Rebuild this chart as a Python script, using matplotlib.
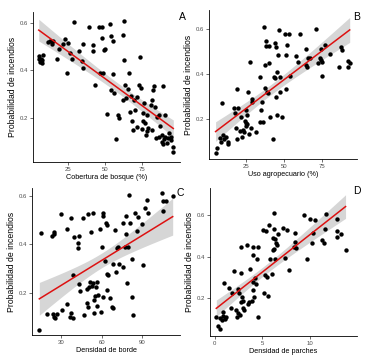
import matplotlib
matplotlib.use("Agg")
import matplotlib.pyplot as plt
import numpy as np

plt.rcParams["font.family"] = ["Liberation Sans", "DejaVu Sans"]

# Panel A: forest cover (%) vs fire probability
a_x = [6.0, 6.9, 7.6, 6.5, 8.3, 7.8, 5.6, 11.6, 13.2, 15.0, 14.3, 18.1, 19.4, 22.1, 23.2, 25.4,
       24.8, 26.6, 27.7, 29.2, 32.8, 34.4, 35.0, 35.5, 39.3, 41.7, 42.2, 43.5, 46.2, 47.8, 48.2,
       46.7, 48.9, 49.3, 50.2, 51.1, 53.3, 53.8, 54.0, 55.1, 55.6, 56.0, 57.4, 58.9, 59.6, 61.8,
       62.7, 62.7, 63.4, 64.1, 61.8, 65.2, 66.3, 66.7, 67.2, 67.9, 68.5, 69.4, 70.1, 71.2, 71.6,
       73.0, 73.4, 73.9, 74.6, 75.2, 75.7, 76.1, 76.8, 77.5, 77.9, 77.9, 79.0, 80.6, 81.2, 81.5,
       82.4, 82.8, 83.5, 84.2, 84.6, 86.4, 86.4, 86.8, 87.9, 89.1, 90.2, 87.9, 88.6, 89.5, 90.4,
       91.3, 92.4, 93.1, 94.0, 94.6, 95.3, 95.8]
a_y = [0.458, 0.449, 0.441, 0.435, 0.463, 0.432, 0.446, 0.517, 0.525, 0.522, 0.511, 0.446, 0.49,
       0.511, 0.531, 0.514, 0.39, 0.472, 0.446, 0.602, 0.479, 0.437, 0.408, 0.511, 0.583, 0.483,
       0.507, 0.337, 0.58, 0.58, 0.535, 0.39, 0.39, 0.486, 0.488, 0.215, 0.595, 0.317, 0.542,
       0.525, 0.385, 0.306, 0.112, 0.212, 0.198, 0.549, 0.609, 0.441, 0.338, 0.282, 0.275, 0.32,
       0.39, 0.226, 0.292, 0.188, 0.149, 0.275, 0.233, 0.163, 0.286, 0.338, 0.455, 0.324, 0.151,
       0.188, 0.219, 0.264, 0.177, 0.128, 0.212, 0.146, 0.156, 0.254, 0.275, 0.149, 0.317, 0.334,
       0.244, 0.114, 0.205, 0.121, 0.212, 0.166, 0.128, 0.334, 0.212, 0.1, 0.09, 0.109, 0.121,
       0.095, 0.114, 0.135, 0.107, 0.118, 0.078, 0.057]

# Panel B: agricultural use (%)
b_x = [4.8, 5.7, 7.5, 8.6, 9.6, 9.2, 10.3, 11.8, 12.9, 12.9, 16.7, 17.3, 18.4, 18.9, 19.1, 19.5,
       21.1, 21.7, 22.4, 22.8, 23.2, 24.1, 24.6, 24.6, 25.0, 25.4, 25.7, 26.1, 26.8, 27.2, 27.9,
       28.5, 29.0, 31.1, 33.8, 34.2, 34.9, 35.5, 36.0, 36.6, 37.1, 37.1, 37.7, 38.2, 38.6, 39.3,
       39.7, 40.0, 40.8, 42.5, 43.0, 43.6, 43.9, 44.3, 44.7, 45.2, 45.4, 45.8, 46.5, 46.9, 47.4,
       48.7, 50.2, 50.9, 51.3, 52.0, 53.1, 53.5, 57.9, 59.0, 60.5, 64.0, 64.5, 64.9, 65.6, 66.7,
       70.6, 72.1, 73.2, 73.9, 74.3, 75.0, 75.0, 76.5, 79.8, 86.0, 87.5, 87.7, 92.1, 91.7, 93.0]
b_y = [0.049, 0.068, 0.113, 0.098, 0.128, 0.272, 0.109, 0.12, 0.098, 0.09, 0.247, 0.225, 0.158,
       0.332, 0.109, 0.247, 0.147, 0.21, 0.12, 0.15, 0.143, 0.192, 0.18, 0.168, 0.24, 0.217, 0.177,
       0.321, 0.132, 0.455, 0.158, 0.291, 0.277, 0.143, 0.187, 0.385, 0.24, 0.277, 0.187, 0.608,
       0.44, 0.336, 0.525, 0.549, 0.321, 0.314, 0.448, 0.525, 0.21, 0.109, 0.388, 0.54, 0.381,
       0.522, 0.299, 0.217, 0.41, 0.485, 0.597, 0.321, 0.388, 0.21, 0.578, 0.485, 0.332, 0.529,
       0.581, 0.391, 0.48, 0.455, 0.581, 0.44, 0.51, 0.433, 0.47, 0.474, 0.602, 0.451, 0.474,
       0.514, 0.462, 0.455, 0.391, 0.529, 0.489, 0.433, 0.522, 0.507, 0.459, 0.433, 0.448]

# Panel C: edge density
c_x = [14.0, 15.0, 19.4, 23.9, 24.8, 25.6, 23.1, 24.8, 25.1, 27.3, 30.0, 30.5, 34.2, 34.2, 36.6,
       37.1, 37.1, 38.6, 39.1, 39.6, 42.3, 42.8, 43.5, 43.5, 44.0, 46.5, 47.0, 48.9, 49.4, 50.2,
       50.2, 50.9, 51.4, 51.9, 52.6, 53.4, 53.9, 54.6, 54.6, 55.1, 55.8, 56.3, 56.8, 57.5, 58.8,
       59.3, 60.0, 60.7, 61.2, 61.2, 62.5, 63.2, 63.7, 64.2, 63.7, 64.9, 66.1, 67.4, 68.1, 68.6,
       69.8, 70.6, 71.6, 72.3, 73.0, 75.5, 76.0, 77.2, 77.9, 77.9, 78.4, 79.7, 80.4, 80.9, 82.1,
       82.1, 82.9, 84.6, 85.8, 87.0, 89.5, 90.7, 91.9, 93.2, 94.4, 104.3, 105.0, 105.5, 107.5,
       112.4]
c_y = [0.046, 0.448, 0.11, 0.11, 0.101, 0.094, 0.434, 0.443, 0.452, 0.112, 0.526, 0.128, 0.153,
       0.462, 0.101, 0.117, 0.508, 0.273, 0.094, 0.432, 0.407, 0.386, 0.434, 0.236, 0.208, 0.508,
       0.108, 0.156, 0.214, 0.142, 0.526, 0.225, 0.243, 0.452, 0.228, 0.239, 0.528, 0.17, 0.117,
       0.188, 0.222, 0.246, 0.145, 0.19, 0.465, 0.121, 0.39, 0.531, 0.517, 0.183, 0.332, 0.49,
       0.211, 0.48, 0.277, 0.273, 0.177, 0.142, 0.135, 0.319, 0.459, 0.287, 0.383, 0.39, 0.319,
       0.305, 0.487, 0.39, 0.443, 0.517, 0.239, 0.39, 0.604, 0.487, 0.338, 0.183, 0.108, 0.528,
       0.457, 0.512, 0.484, 0.314, 0.549, 0.583, 0.528, 0.611, 0.539, 0.581, 0.581, 0.6]

# Panel D: patch density
d_x = [0.17, 0.34, 0.58, 0.58, 0.78, 0.85, 0.92, 1.02, 1.12, 1.19, 1.46, 1.69, 1.86, 2.03, 2.27,
       2.37, 2.47, 2.47, 2.54, 2.61, 2.71, 2.71, 2.81, 2.88, 2.95, 2.98, 3.05, 3.39, 3.49, 3.56,
       3.73, 3.90, 3.97, 4.07, 4.07, 4.07, 4.17, 4.24, 4.31, 4.41, 4.51, 4.51, 5.08, 5.19, 5.32,
       5.42, 5.53, 5.59, 5.66, 5.76, 6.0, 6.10, 6.10, 6.20, 6.20, 6.27, 6.34, 6.34, 6.44, 6.54,
       6.68, 7.12, 7.36, 7.56, 7.80, 8.31, 8.47, 8.47, 8.58, 9.32, 9.66, 10.0, 10.17, 10.34, 10.51,
       11.29, 11.42, 11.53, 11.69, 12.78, 12.78, 12.88, 13.22, 13.73]
d_y = [0.112, 0.067, 0.051, 0.104, 0.096, 0.115, 0.136, 0.275, 0.099, 0.112, 0.248, 0.152, 0.224,
       0.333, 0.144, 0.112, 0.243, 0.131, 0.224, 0.12, 0.448, 0.32, 0.184, 0.208, 0.152, 0.189,
       0.144, 0.456, 0.173, 0.184, 0.339, 0.189, 0.448, 0.408, 0.28, 0.24, 0.208, 0.296, 0.269,
       0.387, 0.448, 0.112, 0.528, 0.224, 0.312, 0.525, 0.304, 0.211, 0.552, 0.387, 0.317, 0.432,
       0.488, 0.435, 0.531, 0.608, 0.483, 0.387, 0.464, 0.456, 0.509, 0.536, 0.392, 0.528, 0.336,
       0.448, 0.472, 0.512, 0.44, 0.6, 0.387, 0.579, 0.467, 0.512, 0.576, 0.48, 0.464, 0.531,
       0.605, 0.525, 0.493, 0.579, 0.509, 0.432]

x_labels = ["Cobertura de bosque (%)", "Uso agropecuario (%)", "Densidad de borde", "Densidad de parches"]
y_label = "Probabilidad de incendios"
tags = ["A", "B", "C", "D"]
x_ticks = [[25, 50, 75], [25, 50, 75], [30, 60, 90], [0, 5, 10]]
y_ticks = [0.2, 0.4, 0.6]

W, H = 367, 363
# pixel boxes: left, right, top, bottom
boxes = [(33, 180, 12, 162), (209, 357, 10, 159), (32, 180, 188, 335), (210, 357, 188, 336)]
xlims = [(1.74, 100.3), (0.46, 97.8), (8.6, 117.8), (-0.49, 14.93)]
ylims = [(0.014, 0.645), (0.021, 0.686), (0.025, 0.633), (0.019, 0.73)]
tag_pos = [(182, 17), (357, 17), (180, 193), (357, 191)]


def smooth(x, y, n=80):
    # linear fit with 95% confidence band, like geom_smooth(method="lm")
    x = np.asarray(x)
    y = np.asarray(y)
    b1, b0 = np.polyfit(x, y, 1)
    xs = np.linspace(x.min(), x.max(), n)
    fit = b0 + b1 * xs
    resid = y - (b0 + b1 * x)
    s = np.sqrt(np.sum(resid ** 2) / (len(x) - 2))
    se = s * np.sqrt(1 / len(x) + (xs - x.mean()) ** 2 / np.sum((x - x.mean()) ** 2))
    return xs, fit, 1.985 * se


fig = plt.figure(figsize=(W / 100, H / 100), dpi=100)
data = [(a_x, a_y), (b_x, b_y), (c_x, c_y), (d_x, d_y)]
for i, (x, y) in enumerate(data):
    l, r, t, b = boxes[i]
    ax = fig.add_axes([l / W, 1 - b / H, (r - l) / W, (b - t) / H])
    xs, fit, ci = smooth(x, y)
    ax.fill_between(xs, fit - ci, fit + ci, color="#999999", alpha=0.4, lw=0, zorder=1)
    ax.scatter(x, y, s=10, c="black", lw=0, zorder=2)
    ax.plot(xs, fit, color="#dd1111", lw=1.1, zorder=3)
    ax.set_xlim(*xlims[i])
    ax.set_ylim(*ylims[i])
    ax.set_xticks(x_ticks[i])
    ax.set_yticks(y_ticks)
    ax.set_yticklabels([f"{v:.1f}" for v in y_ticks])
    for side in ["top", "right"]:
        ax.spines[side].set_visible(False)
    for side in ["left", "bottom"]:
        ax.spines[side].set_linewidth(0.6)
    ax.tick_params(length=2, width=0.5, color="#333333", labelsize=4.3,
                   labelcolor="#4d4d4d", pad=1.5)
    ax.set_xlabel(x_labels[i], fontsize=5.2, labelpad=1.5)
    ax.set_ylabel(y_label, fontsize=6.2, labelpad=2)
    fig.text(tag_pos[i][0] / W, 1 - tag_pos[i][1] / H, tags[i], fontsize=7.5,
             ha="center", va="center")

fig.savefig("out.png", dpi=100)
